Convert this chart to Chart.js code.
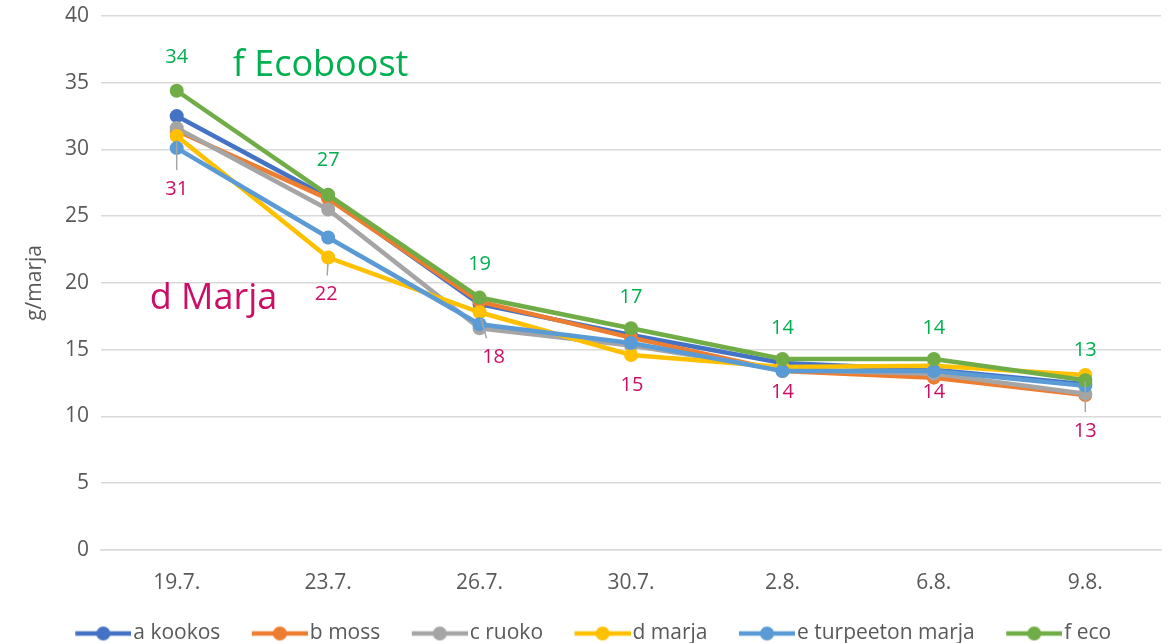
<!DOCTYPE html>
<html>
<head>
<meta charset="utf-8">
<script src="https://cdn.jsdelivr.net/npm/chart.js@4.4.0/dist/chart.umd.min.js"></script>
<style>
  html, body { margin: 0; padding: 0; background: #ffffff; }
  #wrap { width: 1168px; height: 643px; position: relative; }
</style>
</head>
<body>
<div id="wrap"><canvas id="c" width="1168" height="643"></canvas></div>
<script>
// ---- data ----
const categories = ['19.7.', '23.7.', '26.7.', '30.7.', '2.8.', '6.8.', '9.8.'];
const aKookos   = [32.5, 26.4, 18.4, 16.1, 14.0, 13.5, 12.4];
const bMoss     = [31.4, 26.3, 18.6, 15.9, 13.4, 12.9, 11.6];
const cRuoko    = [31.6, 25.5, 16.6, 15.3, 13.5, 13.2, 11.7];
const dMarja    = [31.0, 21.9, 17.8, 14.6, 13.7, 13.8, 13.1];
const eTurpeeton= [30.1, 23.4, 16.9, 15.5, 13.4, 13.4, 12.3];
const fEco      = [34.4, 26.6, 18.9, 16.6, 14.3, 14.3, 12.7];
const seriesNames = ['a kookos', 'b moss', 'c ruoko', 'd marja', 'e turpeeton marja', 'f eco'];
const yTicks = [0, 5, 10, 15, 20, 25, 30, 35, 40];

const FONT = "'Open Sans', 'DejaVu Sans', sans-serif";
const colors = ['#4472C4', '#ED7D31', '#A5A5A5', '#FFC000', '#5B9BD5', '#70AD47'];
const seriesData = [aKookos, bMoss, cRuoko, dMarja, eTurpeeton, fEco];

const LEG_BOX = 73;
const LEG_IMG = LEG_BOX + 17;
function legendImage(color) {
  const cv = document.createElement('canvas');
  cv.width = LEG_IMG; cv.height = 16;
  const g = cv.getContext('2d');
  const x0 = LEG_IMG - 56;
  g.strokeStyle = color; g.lineWidth = 4.5; g.lineCap = 'butt';
  g.beginPath(); g.moveTo(x0, 8); g.lineTo(LEG_IMG, 8); g.stroke();
  g.fillStyle = color;
  g.beginPath(); g.arc(x0 + 28, 8, 7, 0, Math.PI * 2); g.fill();
  return cv;
}

const datasets = seriesData.map((d, i) => ({
  label: seriesNames[i],
  data: d,
  borderColor: colors[i],
  backgroundColor: colors[i],
  borderWidth: 4.5,
  pointRadius: 7,
  pointHoverRadius: 7,
  pointBorderWidth: 0,
  pointStyle: 'circle',
  tension: 0,
  order: seriesData.length - i,
  legendImg: legendImage(colors[i])
}));

const labelPlugin = {
  id: 'valueLabels',
  afterDatasetsDraw(chart, args, opts) {
    const ctx = chart.ctx;
    const xs = chart.scales.x, ys = chart.scales.y;
    ctx.save();
    (opts.notes || []).forEach(n => {
      ctx.font = n.font;
      ctx.fillStyle = n.color;
      ctx.textAlign = 'left';
      ctx.textBaseline = 'middle';
      ctx.fillText(n.text, xs.getPixelForValue(n.xIndex) + n.dx, ys.getPixelForValue(n.yValue));
    });
    (opts.series || []).forEach(s => {
      const meta = chart.getDatasetMeta(s.dataset);
      const values = chart.data.datasets[s.dataset].data;
      meta.data.forEach((pt, j) => {
        const dx = s.dx ? s.dx[j] : 0;
        const dy = s.dy[j];
        const lx = pt.x + dx, ly = pt.y + dy;
        if (s.leader && s.leader[j]) {
          ctx.strokeStyle = '#A6A6A6';
          ctx.lineWidth = 1.5;
          ctx.beginPath();
          const sy = pt.y + 6, ey = ly - 19;
          ctx.moveTo(pt.x + dx * 0.1, sy);
          ctx.lineTo(pt.x + dx * 0.5, ey);
          ctx.stroke();
        }
        ctx.font = '20px ' + FONT;
        ctx.fillStyle = s.color;
        ctx.textAlign = 'center';
        ctx.textBaseline = 'middle';
        ctx.fillText(String(Math.round(values[j])), lx, ly);
      });
    });
    ctx.restore();
  }
};

new Chart(document.getElementById('c'), {
  type: 'line',
  data: { labels: categories, datasets: datasets },
  plugins: [labelPlugin],
  options: {
    responsive: false,
    animation: false,
    events: [],
    layout: { padding: { left: 0, right: 7, top: 16, bottom: -11 } },
    scales: {
      x: {
        offset: true,
        grid: { display: false, drawTicks: false, offset: true },
        border: { display: true, color: '#D9D9D9', width: 1.5 },
        ticks: { color: '#595959', font: { family: FONT, size: 21 }, padding: 21, maxRotation: 0 }
      },
      y: {
        min: 0, max: 40,
        afterFit(scale) { scale.width = 101; scale.paddingTop = 0; scale.paddingBottom = 0; },
        afterBuildTicks(scale) { scale.ticks = yTicks.map(v => ({ value: v })); },
        grid: { color: '#D9D9D9', lineWidth: 1.5, drawTicks: false },
        border: { display: false },
        ticks: { color: '#595959', font: { family: FONT, size: 21 }, padding: 12 },
        title: {
          display: true, text: 'g/marja', color: '#595959',
          font: { family: FONT, size: 21 }, padding: { top: 22, bottom: 0 }
        }
      }
    },
    plugins: {
      tooltip: { enabled: false },
      legend: {
        position: 'bottom',
        labels: {
          usePointStyle: true,
          pointStyleWidth: LEG_BOX,
          padding: 6,
          color: '#595959',
          font: { family: FONT, size: 21 },
          sort: (a, b) => a.datasetIndex - b.datasetIndex,
          generateLabels(chart) {
            return chart.data.datasets.map((ds, i) => ({
              text: ds.label,
              fillStyle: ds.backgroundColor,
              strokeStyle: ds.borderColor,
              lineWidth: 0,
              pointStyle: ds.legendImg,
              fontColor: '#595959',
              datasetIndex: i,
              hidden: false
            }));
          }
        }
      },
      valueLabels: {
        notes: [
          { text: 'f Ecoboost', color: '#00B050', font: '36px ' + FONT, xIndex: 0, dx: 56, yValue: 36.3 },
          { text: 'd Marja', color: '#CC0F66', font: '36px ' + FONT, xIndex: 0, dx: -27, yValue: 18.8 }
        ],
        series: [
          { dataset: 5, color: '#00B050', dy: [-33, -35, -33, -31, -31, -31, -30] },
          { dataset: 3, color: '#CC0F66',
            dx: [0, -2, 14, 1, 0, 0, 0],
            dy: [53, 37, 45, 30, 25, 27, 56],
            leader: [true, true, true, false, false, false, true] }
        ]
      }
    }
  }
});
</script>
</body>
</html>
